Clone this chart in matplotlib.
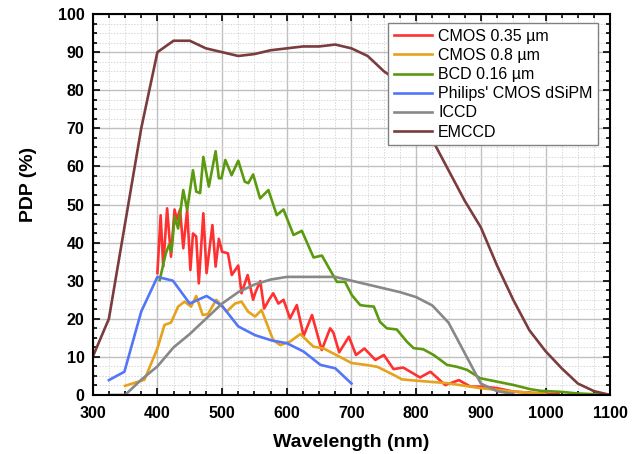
import matplotlib
matplotlib.use("Agg")
import matplotlib.pyplot as plt
from matplotlib.ticker import MultipleLocator

plt.rcParams['font.family'] = ['Liberation Sans', 'DejaVu Sans']

# CMOS 0.35 um
cmos035_x = [400, 405, 409, 415, 421, 426.5, 430, 435, 440, 446, 451, 455, 460, 464, 471, 476, 485, 490,
             495, 500, 509, 515, 525, 530, 539.5, 548, 551, 559, 565, 572.6, 579, 587, 595, 605, 615.5,
             626, 639, 654, 667, 672, 681, 696, 707, 720, 737, 750, 765, 780, 806, 822, 845, 866, 884,
             904, 925, 950, 992, 1020]
cmos035_y = [32, 47.2, 33.7, 49, 36.3, 48.7, 46, 48.7, 38.5, 48.6, 32.8, 42.4, 41.6, 29.3, 47.7, 32, 44.6,
             33.7, 41, 37.6, 37.2, 31.5, 34, 26.7, 31.5, 25, 26.7, 29.9, 22.7, 25, 26.7, 24, 25, 20.1, 23.6,
             15.5, 21, 11.8, 17.5, 16.4, 11.2, 15.3, 10.5, 12.2, 9.2, 10.5, 6.8, 7.2, 4.6, 6.1, 2.6, 3.9,
             2.2, 2.2, 1.8, 0.9, 0.4, 0.2]

# CMOS 0.8 um
cmos08_x = [350, 380, 400, 411, 421, 432, 442, 452, 460, 470, 478, 491, 507, 520, 530, 540, 551, 561,
            579, 590, 605, 621, 641, 657, 672, 700, 722, 740, 766, 778, 797, 848, 899, 950, 1000]
cmos08_y = [2.4, 4, 12.2, 18.4, 19, 23.2, 24.5, 23.2, 26, 21, 21.2, 25, 21.9, 24, 24.5, 21.9, 20.6, 22.3,
            14.4, 13.1, 14, 16, 12.7, 12.2, 10.9, 8.4, 7.9, 7.4, 5.2, 4.1, 3.8, 3.1, 1.8, 0.9, 0.3]

# BCD 0.16 um
bcd_x = [403.6, 413, 418, 421.7, 426.7, 432, 440, 446, 455, 460, 466, 471, 479.5, 490, 495, 499, 505,
         514.7, 525, 535, 540.5, 548, 558.7, 571.6, 584.5, 594.9, 610.4, 623.3, 641.4, 654.3, 667,
         677.4, 690, 700.6, 713.5, 721.7, 734.6, 744, 754.7, 770, 785.6, 796, 811, 827, 837.5, 847.7,
         863, 878.7, 899, 925, 951, 977, 992, 1025, 1050, 1075, 1100]
bcd_y = [30.2, 37.2, 39.4, 37.6, 46.8, 43.7, 53.8, 48.6, 59, 53.4, 53, 62.5, 54.7, 64, 56.9, 56.9, 61.7,
         57.7, 61.5, 56, 55.6, 57.9, 51.6, 53.8, 47.2, 48.7, 42, 43.1, 36.1, 36.6, 32.8,
         29.7, 29.7, 26.2, 23.6, 23.4, 23.2, 19.2, 17.5, 17.2, 14, 12.3, 12, 10.5, 9.2, 7.9,
         7.4, 6.6, 4.4, 3.5, 2.6, 1.5, 1.1, 0.8, 0.4, 0.2, 0]

# Philips' CMOS dSiPM
philips_x = [325, 349, 375, 400, 424, 450, 476, 500, 525, 551, 577, 600, 626, 652, 675, 700]
philips_y = [3.9, 6.1, 21.9, 31, 30, 24, 26, 23.4, 18, 15.7, 14.3, 13.6, 11.4, 7.9, 7, 3]

# ICCD
iccd_x = [325, 350, 375, 400, 425, 450, 475, 500, 525, 550, 575, 600, 625, 650, 675, 700, 725, 750,
          775, 800, 825, 850, 875, 900, 925, 950]
iccd_y = [0, 0, 4, 7.5, 12.5, 16, 20, 24, 27, 29, 30.3, 31, 31, 31, 31, 30, 29, 28,
          27, 25.7, 23.5, 19, 11, 3, 1, 0.3]

# EMCCD
emccd_x = [300, 325, 350, 375, 400, 425, 450, 475, 500, 525, 550, 575, 600, 625, 650, 675, 700, 725,
           750, 775, 800, 825, 850, 875, 900, 925, 950, 975, 1000, 1025, 1050, 1075, 1100]
emccd_y = [10, 20, 45, 70, 90, 93, 93, 91, 90, 89, 89.5, 90.5, 91, 91.5, 91.5, 92, 91, 89,
           85, 82, 75, 67, 59, 51, 44, 34, 25, 17, 11.5, 7, 3, 1, 0]

series = [
    ("CMOS 0.35 \u00b5m", cmos035_x, cmos035_y, '#ff3030'),
    ("CMOS 0.8 \u00b5m", cmos08_x, cmos08_y, '#e6a21c'),
    ("BCD 0.16 \u00b5m", bcd_x, bcd_y, '#5b9a0f'),
    ("Philips' CMOS dSiPM", philips_x, philips_y, '#5276f7'),
    ("ICCD", iccd_x, iccd_y, '#888888'),
    ("EMCCD", emccd_x, emccd_y, '#7a3c3c'),
]

fig = plt.figure(figsize=(6.35, 4.54), dpi=100)
ax = fig.add_axes([0.146, 0.130, 0.815, 0.839])

for name, x, y, c in series:
    ax.plot(x, y, color=c, lw=1.9, label=name, solid_joinstyle='round')

ax.set_xlim(300, 1100)
ax.set_ylim(0, 100)
ax.xaxis.set_major_locator(MultipleLocator(100))
ax.xaxis.set_minor_locator(MultipleLocator(25))
ax.yaxis.set_major_locator(MultipleLocator(10))
ax.yaxis.set_minor_locator(MultipleLocator(2.5))
ax.grid(which='major', color='#c0c0c0', lw=1.0, ls='-')
ax.grid(which='minor', color='#d8d8d8', lw=0.7, ls=(0, (1.5, 1.5)))
ax.set_axisbelow(True)
ax.tick_params(which='both', direction='in', top=True, right=True, width=1.2)
ax.tick_params(which='major', length=5, labelsize=11.5)
ax.tick_params(axis='x', which='major', pad=8)
ax.tick_params(axis='y', which='major', pad=6)
ax.tick_params(which='minor', length=3)
for lab in ax.get_xticklabels() + ax.get_yticklabels():
    lab.set_fontweight('bold')
for sp in ax.spines.values():
    sp.set_linewidth(1.5)

ax.set_xlabel('Wavelength (nm)', fontsize=14, fontweight='bold', labelpad=9)
ax.set_ylabel('PDP (%)', fontsize=14, fontweight='bold')
ax.yaxis.set_label_coords(-0.107, 0.554)

leg = ax.legend(loc='upper right', bbox_to_anchor=(0.977, 0.976), borderaxespad=0,
                fancybox=False, edgecolor='#808080', framealpha=1, fontsize=11.5,
                handlelength=2.4, labelspacing=0.26, handletextpad=0.4, borderpad=0.35)
leg.get_frame().set_linewidth(1.0)

fig.savefig('out.png', dpi=100)
